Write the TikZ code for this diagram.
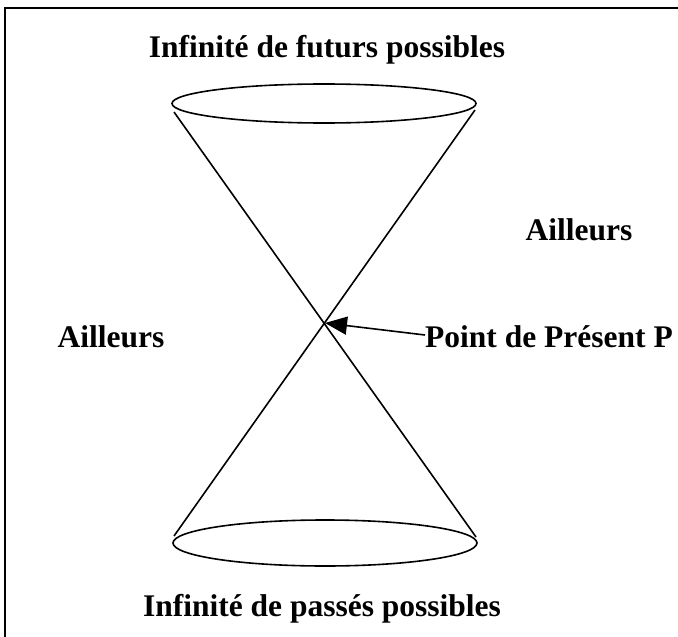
\documentclass[tikz,border=0pt]{standalone}
\usepackage{fontspec}
\setmainfont{Liberation Serif}
\usetikzlibrary{arrows.meta}
\tikzset{
  lbl/.style={font=\fontsize{31.5}{36}\selectfont\bfseries, inner sep=0pt, anchor=base},
  ln/.style={line width=1.6pt, black},
}
\begin{document}
\begin{tikzpicture}[x=1pt,y=-1pt]
\useasboundingbox (0,0) rectangle (678,637);
% frame (only top and left edges visible)
\draw[ln] (5,637) -- (5,8) -- (678,8);
% ellipses
\draw[ln] (324,103.5) ellipse [x radius=152, y radius=19.5];
\draw[ln] (325,543) ellipse [x radius=152, y radius=23];
% cone lines
\coordinate (tl) at (174,112);
\coordinate (tr) at (475,110);
\coordinate (bl) at (174,536);
\coordinate (br) at (476,537);
\coordinate (P) at (325,323);
\draw[ln] (tl) -- (br);
\draw[ln] (tr) -- (bl);
% labels
\node[lbl] (fut) at (327,57) {Infinité de futurs possibles};
\node[lbl] (pas) at (322,616) {Infinité de passés possibles};
\node[lbl] (ailR) at (579,240) {Ailleurs};
\node[lbl] (ailL) at (111,347) {Ailleurs};
\node[lbl, anchor=base west] (pt) at (425,347) {Point de Présent P};
\draw[ln, -{Triangle[length=22pt,width=18pt]}] (pt.west |- 0,335) coordinate (ps) -- (P);
\end{tikzpicture}
\end{document}
